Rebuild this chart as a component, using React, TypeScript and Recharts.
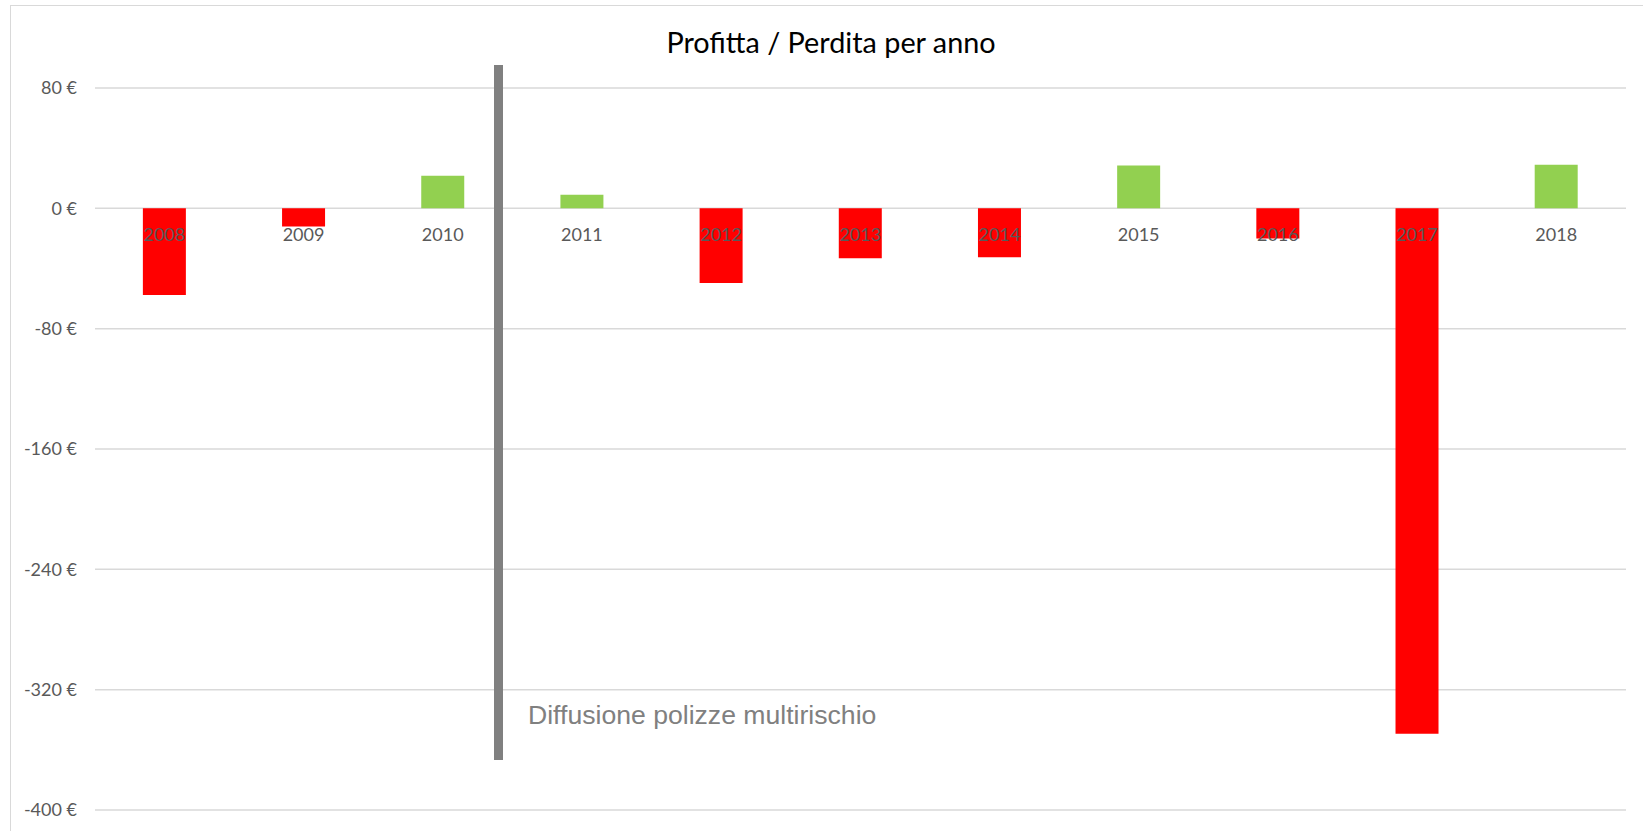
import React from "react";
import {
  BarChart,
  Bar,
  Cell,
  XAxis,
  YAxis,
  CartesianGrid,
  LabelList,
} from "recharts";

const years = ["2008", "2009", "2010", "2011", "2012", "2013", "2014", "2015", "2016", "2017", "2018"];
const profit = [-57.6, -12, 21.7, 9.1, -49.6, -33.2, -32.6, 28.4, -20.1, -349.3, 29];
const yTicks = [-400, -320, -240, -160, -80, 0, 80];

const GAIN = "#92d050";
const LOSS = "#ff0000";
const LABEL_GREY = "#595959";

const data = years.map((year, i) => ({ year, value: profit[i] }));

// year label sits just under the zero line, on top of the bars
const renderYearLabel = (props: any) => {
  const vb = props.viewBox ?? props;
  const x = Number(vb.x);
  const y = Number(vb.y);
  const w = Number(vb.width);
  const h = Number(vb.height);
  let idx = typeof props.index === "number" ? props.index : years.indexOf(String(props.value));
  if (idx < 0) idx = 0;
  const top = Math.min(y, y + h);
  const bottom = Math.max(y, y + h);
  const zeroY = profit[idx] >= 0 ? bottom : top;
  return (
    <text
      x={x + w / 2}
      y={zeroY + 26}
      dy="0.355em"
      textAnchor="middle"
      fill={LABEL_GREY}
      fontSize={18}
      fontFamily="Lato, sans-serif"
    >
      {years[idx]}
    </text>
  );
};

export default function App() {
  return (
    <div
      style={{
        position: "fixed",
        left: 0,
        top: 0,
        width: 1643,
        height: 831,
        overflow: "hidden",
        background: "#fff",
        fontFamily: "Lato, sans-serif",
      }}
    >
      <div
        style={{
          position: "absolute",
          left: 10,
          top: 5,
          width: 1660,
          height: 860,
          border: "1px solid #d9d9d9",
        }}
      />
      <div
        style={{
          position: "absolute",
          left: 0,
          top: 23,
          width: 1662,
          textAlign: "center",
          fontSize: 28.8,
          lineHeight: "38px",
          color: "#000",
        }}
      >
        Profitta / Perdita per anno
      </div>
      <div style={{ position: "absolute", left: 0, top: 0 }}>
        <BarChart
          width={1643}
          height={831}
          data={data}
          margin={{ top: 88, right: 17, bottom: 21, left: 0 }}
          barCategoryGap="34.4%"
        >
          <CartesianGrid vertical={false} stroke="#d9d9d9" strokeWidth={1.5} />
          <XAxis dataKey="year" hide />
          <YAxis
            width={95}
            domain={[-400, 80]}
            ticks={yTicks}
            interval={0}
            axisLine={false}
            tickLine={false}
            tickSize={0}
            tickMargin={18}
            tickFormatter={(v: number) => `${v} €`}
            tick={{ fill: LABEL_GREY, fontSize: 18, fontFamily: "Lato, sans-serif" }}
          />
          <Bar dataKey="value" isAnimationActive={false}>
            {data.map((d) => (
              <Cell key={d.year} fill={d.value >= 0 ? GAIN : LOSS} />
            ))}
            <LabelList dataKey="year" content={renderYearLabel} />
          </Bar>
        </BarChart>
      </div>
      {/* marker for the start of multi-risk policies */}
      <div
        style={{
          position: "absolute",
          left: 494,
          top: 65,
          width: 9,
          height: 695,
          background: "#808080",
        }}
      />
      <div
        style={{
          position: "absolute",
          left: 528,
          top: 701,
          fontSize: 26.6,
          lineHeight: "28px",
          color: "#808080",
          fontFamily: "'Liberation Sans', Arial, sans-serif",
          whiteSpace: "nowrap",
        }}
      >
        Diffusione polizze multirischio
      </div>
    </div>
  );
}
